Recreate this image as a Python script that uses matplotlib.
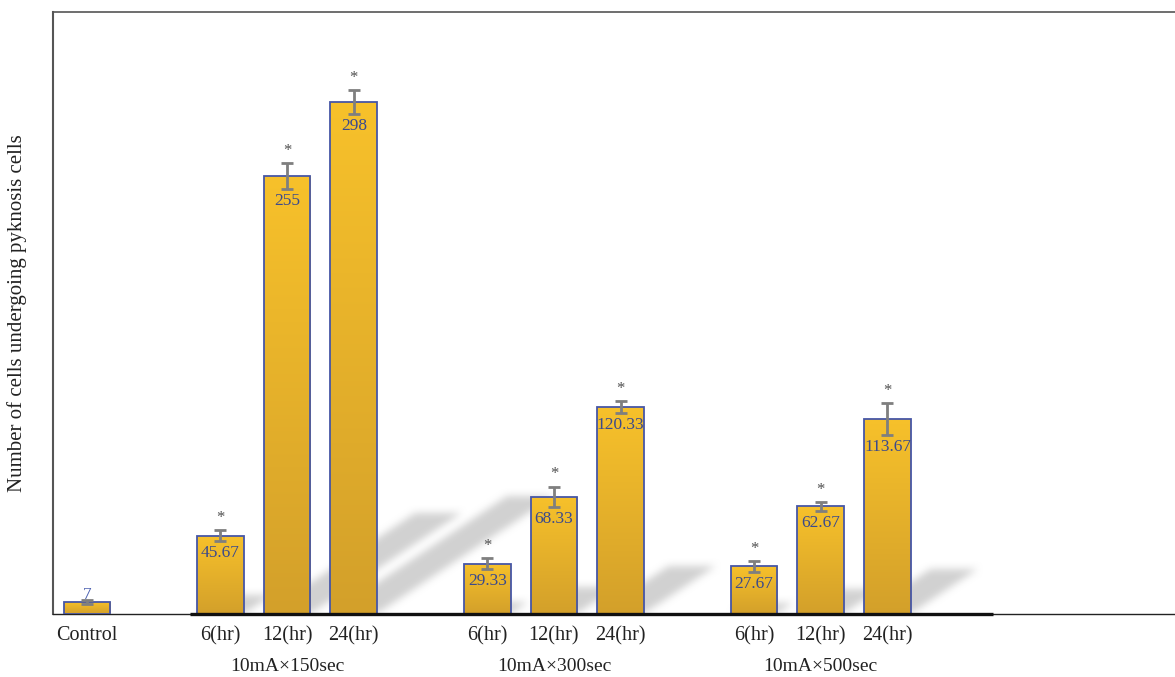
import numpy as np
import matplotlib
matplotlib.use("Agg")
import matplotlib.pyplot as plt
from matplotlib.path import Path
from matplotlib.colors import LinearSegmentedColormap

plt.rcParams['font.family'] = ['Liberation Serif', 'DejaVu Serif']

# data
groups = ['', '10mA×150sec', '10mA×300sec', '10mA×500sec']
group_bars = [['Control'], ['6(hr)', '12(hr)', '24(hr)'],
              ['6(hr)', '12(hr)', '24(hr)'], ['6(hr)', '12(hr)', '24(hr)']]
values = [7, 45.67, 255, 298, 29.33, 68.33, 120.33, 27.67, 62.67, 113.67]
errors = [1, 3, 7.5, 7, 3, 5.8, 3.5, 3.2, 2.6, 9.2]
starred = [False] + [True] * 9
ylabel = 'Number of cells undergoing pyknosis cells'

# slot positions: one empty slot between groups
pos = []
labels = []
group_centres = []
slot = 0
for gi, bars in enumerate(group_bars):
    start = slot
    for b in bars:
        pos.append(slot)
        labels.append(b)
        slot += 1
    group_centres.append((start + slot - 1) / 2)
    slot += 1
pos = np.array(pos, dtype=float)
values = np.array(values)
errors = np.array(errors)

W, H = 1175, 677
fig = plt.figure(figsize=(W / 100, H / 100), dpi=100)
ax = fig.add_axes([53 / W, (H - 614) / H, 1 - 53 / W, (614 - 12) / H])
xmin, xmax = -0.51, 16.31
ymin, ymax = 0, 350.4
ax.set_xlim(xmin, xmax)
ax.set_ylim(ymin, ymax)

bw = 0.7
px_per_x = (W - 53) / (xmax - xmin)
px_per_y = 602 / (ymax - ymin)

# soft drop shadows behind the bars
nx, ny = 1122, 602
gx = np.linspace(xmin, xmax, nx)
gy = np.linspace(ymin, ymax, ny)
XX, YY = np.meshgrid(gx, gy)
pts = np.column_stack([XX.ravel(), YY.ravel()])
mask = np.zeros(XX.size)
for p, v in zip(pos[1:], values[1:]):
    rise = 0.23 * v
    shift = 1.5 * rise * px_per_y / px_per_x
    poly = Path([(p - bw / 2, 0), (p + bw / 2, 0),
                 (p + bw / 2 + shift, rise), (p - bw / 2 + shift, rise)])
    mask = np.maximum(mask, poly.contains_points(pts).astype(float))
mask = mask.reshape(ny, nx)
k = np.ones(9) / 9
for _ in range(2):
    mask = np.apply_along_axis(lambda r: np.convolve(r, k, mode='same'), 1, mask)
    mask = np.apply_along_axis(lambda c: np.convolve(c, k, mode='same'), 0, mask)
rgba = np.zeros((ny, nx, 4))
rgba[..., :3] = 0.78
rgba[..., 3] = mask * 0.8
ax.imshow(rgba, extent=[xmin, xmax, ymin, ymax], origin='lower',
          aspect='auto', zorder=1, interpolation='bilinear')

# bars with vertical gradient
cmap = LinearSegmentedColormap.from_list('bar', ['#d3a02b', '#f7c12a'])
grad = np.linspace(0, 1, 256).reshape(-1, 1)
for p, v in zip(pos, values):
    rect = plt.Rectangle((p - bw / 2, 0), bw, v, facecolor='none',
                         edgecolor='#4656a6', linewidth=1.3, zorder=4)
    ax.add_patch(rect)
    im = ax.imshow(grad, extent=[p - bw / 2, p + bw / 2, 0, v], origin='lower',
                   cmap=cmap, aspect='auto', zorder=3)
    im.set_clip_path(rect)

ax.errorbar(pos, values, yerr=errors, fmt='none', ecolor='#7f7f7f',
            elinewidth=2, capsize=4, capthick=2, zorder=5)

for p, v, e, s in zip(pos, values, errors, starred):
    if s:
        ax.annotate(f'{v:g}', (p, v - e), xytext=(0, -3), textcoords='offset points',
                    ha='center', va='top', fontsize=12.5, color='#3b4a8c', zorder=6)
        ax.annotate('*', (p, v + e), xytext=(0, 3), textcoords='offset points',
                    ha='center', va='bottom', fontsize=12, color='#505050', zorder=6)
    else:
        ax.annotate(f'{v:g}', (p, v), xytext=(0, -1), textcoords='offset points',
                    ha='center', va='bottom', fontsize=12.5, color='#4a5fb0', zorder=4.5)

# thick base line under the treatment groups
ax.plot([1.545, 13.58], [0, 0], color='#111111', lw=2.4, zorder=7,
        solid_capstyle='butt', clip_on=False)

ax.set_xticks(pos)
ax.set_xticklabels(labels, fontsize=14.5, color='#222222')
ax.tick_params(axis='x', length=0, pad=8.5)
ax.set_yticks([])
for gi, c in enumerate(group_centres):
    if groups[gi]:
        ax.text(c, -0.087, groups[gi], transform=ax.get_xaxis_transform(),
                ha='center', va='center', fontsize=14, color='#222222')

ax.spines['right'].set_visible(False)
ax.spines['left'].set_color('#555555')
ax.spines['left'].set_linewidth(1.5)
ax.spines['top'].set_color('#555555')
ax.spines['top'].set_linewidth(1.2)
ax.spines['bottom'].set_color('#222222')
ax.spines['bottom'].set_linewidth(1.0)

fig.text(17 / W, (H - 313) / H, ylabel, rotation=90, ha='center', va='center',
         fontsize=15, color='#222222')

fig.savefig('out.png', dpi=100)
